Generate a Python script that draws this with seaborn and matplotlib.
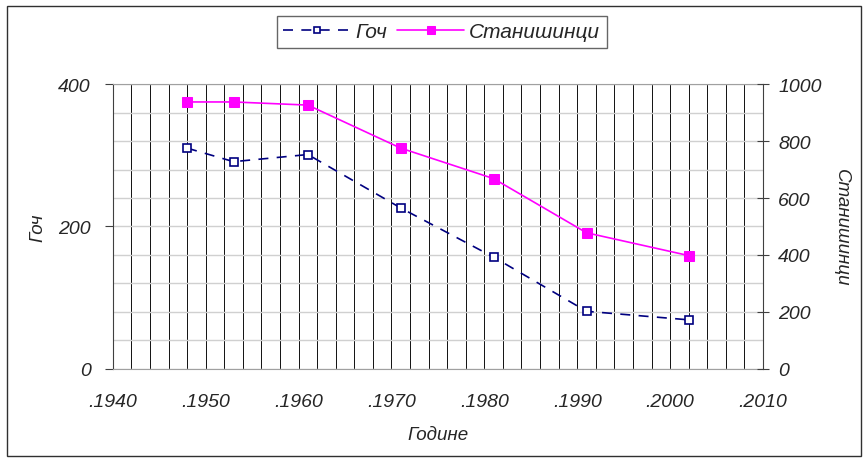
import pandas as pd
import numpy as np
import matplotlib
matplotlib.use('Agg')
import matplotlib.pyplot as plt
from matplotlib.ticker import MultipleLocator, FixedLocator
from matplotlib.patches import Rectangle
import seaborn as sns

# Data
years = [1948, 1953, 1961, 1971, 1981, 1991, 2002]
goch = [310, 291, 301, 226, 157, 81, 69]            # left axis
stanisinci = [937, 937, 926, 775, 668, 478, 398]   # right axis
xtick_years = [1940, 1950, 1960, 1970, 1980, 1990, 2000, 2010]
xtick_labels = ['.' + str(y) for y in xtick_years]

df = pd.DataFrame({'Година': years, 'Гоч': goch, 'Станишинци': stanisinci})

sns.set_style('white')
plt.rcParams['font.family'] = ['Liberation Sans', 'DejaVu Sans']
plt.rcParams['font.style'] = 'italic'
plt.rcParams['font.size'] = 13

fig = plt.figure(figsize=(8.68, 4.64), dpi=100)
ax = fig.add_axes([0.130, 0.2026, 0.749, 0.6142])
ax2 = ax.twinx()

# Grid: vertical every 2 years, horizontal every 100 on the right scale
ax.set_xlim(1940, 2010)
ax.xaxis.set_major_locator(FixedLocator(xtick_years))
ax.xaxis.set_minor_locator(MultipleLocator(2))
ax.set_xticklabels(xtick_labels)
ax.grid(False)
ax.grid(True, which='both', axis='x', color='#101010', linewidth=0.7)
ax.set_ylim(0, 400)
ax.yaxis.set_major_locator(MultipleLocator(200))
ax2.set_ylim(0, 1000)
ax2.yaxis.set_major_locator(MultipleLocator(200))
ax2.yaxis.set_minor_locator(MultipleLocator(100))
ax2.grid(False)
ax.yaxis.set_minor_locator(MultipleLocator(40))
ax.grid(True, which='both', axis='y', color='#d0d0d0', linewidth=1.0)
ax.set_axisbelow(True)

sns.lineplot(data=df, x='Година', y='Гоч', ax=ax, color='#000080',
             linestyle=(0, (6, 5)), linewidth=1.2, marker='s', markersize=6,
             markerfacecolor='white', markeredgecolor='#000080',
             markeredgewidth=1.2, label='Гоч', legend=False)
sns.lineplot(data=df, x='Година', y='Станишинци', ax=ax2, color='#ff00ff',
             linewidth=1.2, marker='s', markersize=7,
             markerfacecolor='#ff00ff', markeredgecolor='#ff00ff',
             label='Станишинци', legend=False)

# Spines and ticks
for a in (ax, ax2):
    for s in a.spines.values():
        s.set_visible(False)
ax.spines['left'].set_visible(True)
ax.spines['left'].set_color('#404040')
ax.spines['bottom'].set_visible(True)
ax.spines['bottom'].set_color('#a0a0a0')
ax.spines['top'].set_visible(True)
ax.spines['top'].set_color('#a0a0a0')
ax2.spines['right'].set_visible(True)
ax2.spines['right'].set_color('#404040')

ax.tick_params(axis='x', which='major', length=5, color='#c0c0c0', pad=12, labelsize=14)
ax.tick_params(axis='x', which='minor', length=0)
ax.tick_params(axis='y', which='major', length=6, color='#404040', pad=10, labelsize=14, left=True)
ax.tick_params(axis='y', which='minor', length=0)
ax2.tick_params(axis='y', which='major', direction='inout', length=8, color='#404040',
                pad=7, labelsize=14, right=True)
ax2.tick_params(axis='y', which='minor', length=0)

ax.set_xlabel('Годинe', fontsize=13.5, labelpad=12)
ax.set_ylabel('Гоч', fontsize=13.5, labelpad=8)
ax2.set_ylabel('Станишинци', fontsize=13.5, rotation=270, labelpad=20)

# Legend on top
h1, l1 = ax.get_legend_handles_labels()
h2, l2 = ax2.get_legend_handles_labels()
fig.legend(h1 + h2, l1 + l2, loc='center', bbox_to_anchor=(0.509, 0.929), ncol=2,
           frameon=True, fancybox=False, edgecolor='#404040', fontsize=15,
           handlelength=3.2, columnspacing=0.5, handletextpad=0.25,
           borderpad=0.3, markerscale=0.8)

# Figure border
fig.patches.append(Rectangle((0.008, 0.015), 0.984, 0.97, transform=fig.transFigure,
                             fill=False, edgecolor='#303030', linewidth=1.0))

fig.savefig('out.png', dpi=100)
